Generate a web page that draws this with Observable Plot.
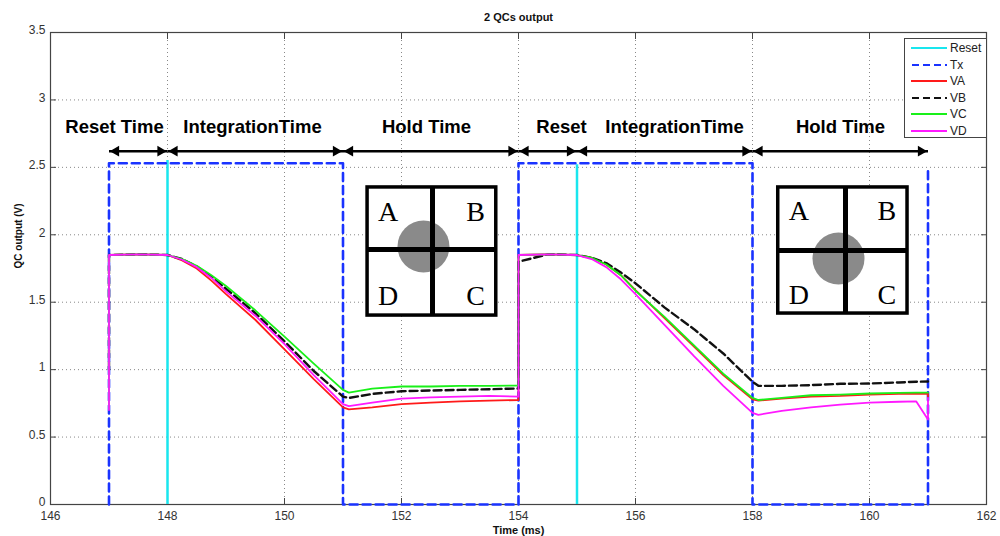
<!DOCTYPE html>
<html><head><meta charset="utf-8">
<script src="https://cdn.jsdelivr.net/npm/d3@7"></script>
<script src="https://cdn.jsdelivr.net/npm/@observablehq/plot@0.6"></script>
<style>
body{margin:0;background:#fff;font-family:"Liberation Sans",Arial,sans-serif;}
#wrap{position:relative;width:1000px;height:536px;}
#legend{position:absolute;left:904px;top:38px;width:83px;height:100px;border:1px solid #444;background:#fff;box-sizing:border-box;font-size:12px;color:#222;}
.row{position:absolute;left:0;height:16px;width:80px;}
.row svg{position:absolute;left:6px;top:6px;}
.row span{position:absolute;left:45px;top:1px;line-height:14px;}
</style></head><body><div id="wrap"><div id="legend"></div></div>
<script>
// ---- data ----
const seriesNames = ["Reset", "Tx", "VA", "VB", "VC", "VD"];
const xTicks = [146, 148, 150, 152, 154, 156, 158, 160, 162];
const yTicks = [0, 0.5, 1, 1.5, 2, 2.5, 3, 3.5];

const resetTime = [148, 155];
const resetPeak = [2.55, 2.52];

const txTime = [147, 147, 151, 151, 154, 154, 158, 158, 161, 161];
const txValue = [0, 2.53, 2.53, 0, 0, 2.53, 2.53, 0, 0, 2.5];

const time = [147, 147, 147.5, 148, 148.25, 148.5, 148.75, 149, 149.5, 150, 150.5, 151, 151.1, 151.5, 152, 152.5, 153, 153.5, 154, 154, 154.5, 155, 155.25, 155.5, 155.75, 156, 156.5, 157, 157.5, 158, 158.1, 158.5, 159, 159.5, 160, 160.5, 160.8, 161, 161];
const va = [1.30, 1.85, 1.855, 1.85, 1.81, 1.75, 1.66, 1.56, 1.37, 1.15, 0.93, 0.72, 0.705, 0.72, 0.745, 0.755, 0.765, 0.77, 0.775, 1.85, 1.855, 1.85, 1.83, 1.78, 1.70, 1.59, 1.38, 1.17, 0.96, 0.78, 0.77, 0.785, 0.80, 0.805, 0.815, 0.82, 0.82, 0.82, 0.80];
const vb = [1.0, 1.85, 1.855, 1.85, 1.82, 1.765, 1.69, 1.60, 1.42, 1.21, 0.99, 0.80, 0.79, 0.82, 0.84, 0.845, 0.85, 0.855, 0.86, 1.80, 1.855, 1.85, 1.83, 1.79, 1.72, 1.64, 1.46, 1.30, 1.12, 0.91, 0.88, 0.88, 0.885, 0.895, 0.897, 0.905, 0.91, 0.912, 0.912];
const vc = [0.71, 1.85, 1.855, 1.85, 1.82, 1.77, 1.70, 1.62, 1.44, 1.245, 1.045, 0.85, 0.83, 0.86, 0.875, 0.875, 0.88, 0.88, 0.882, 1.85, 1.855, 1.85, 1.83, 1.78, 1.70, 1.585, 1.39, 1.18, 0.97, 0.79, 0.775, 0.79, 0.81, 0.815, 0.823, 0.828, 0.83, 0.83, 0.83];
const vd = [0.70, 1.85, 1.855, 1.85, 1.815, 1.76, 1.68, 1.58, 1.40, 1.19, 0.96, 0.745, 0.73, 0.755, 0.785, 0.795, 0.80, 0.805, 0.80, 1.85, 1.855, 1.85, 1.82, 1.76, 1.67, 1.56, 1.33, 1.10, 0.88, 0.68, 0.665, 0.695, 0.72, 0.74, 0.756, 0.762, 0.764, 0.63, 0.79];

// phase annotations (data units)
const phaseLabels = ["Reset Time", "IntegrationTime", "Hold Time", "Reset", "IntegrationTime", "Hold Time"];
const phaseStart = [147, 148, 151, 154, 155, 158];
const phaseEnd = [148, 151, 154, 155, 158, 161];
const phaseLabelX = [147.094, 149.453, 152.427, 154.735, 156.667, 159.504];
const arrowLevel = 2.62;
const labelLevel = 2.795;

// quadrant detector insets (data units)
const insetX1 = [151.42, 158.44];
const insetX2 = [153.62, 160.65];
const insetY1 = [1.401, 1.416];
const insetY2 = [2.351, 2.351];
const insetCrossX = [152.53, 159.59];
const insetCrossY = [1.891, 1.883];
const spotX = [152.376, 159.47];
const spotY = [1.913, 1.824];
const quadLetters = ["A", "B", "D", "C"];
const quadFx = [0.16, 0.84, 0.16, 0.84];
const quadFy = [0.19, 0.19, 0.85, 0.85];

// ---- build tables ----
const colors = {Reset: "#19e6ee", Tx: "#1a33ff", VA: "#ff1a1a", VB: "#111111", VC: "#19f019", VD: "#ff19ff"};
const seriesVals = {VA: va, VB: vb, VC: vc, VD: vd};
const lineRows = name => time.map((t, i) => ({t, v: seriesVals[name][i]}));
const txRows = txTime.map((t, i) => ({t, v: txValue[i]}));
const resetRows = resetTime.map((t, i) => ({t, peak: resetPeak[i]}));
const phases = phaseLabels.map((label, i) => ({label, s: phaseStart[i], e: phaseEnd[i], lx: phaseLabelX[i]}));
const insets = insetX1.map((x1, i) => ({x1, x2: insetX2[i], y1: insetY1[i], y2: insetY2[i], cx: insetCrossX[i], cy: insetCrossY[i], sx: spotX[i], sy: spotY[i]}));
const letters = insets.flatMap(b => quadLetters.map((L, j) => ({L, x: b.x1 + quadFx[j] * (b.x2 - b.x1), y: b.y2 - quadFy[j] * (b.y2 - b.y1)})));

const lineMark = name => Plot.line(lineRows(name), {x: "t", y: "v", stroke: colors[name], strokeWidth: name === "VB" ? 2.4 : 1.8, strokeDasharray: name === "VB" ? "8,4" : null, curve: "linear"});

const chart = Plot.plot({
  width: 1000, height: 536,
  marginLeft: 50, marginRight: 14, marginTop: 32, marginBottom: 32,
  style: {fontFamily: "'Liberation Sans', Arial, sans-serif", fontSize: "12px", color: "#333", background: "#fff"},
  x: {domain: [146, 162]},
  y: {domain: [0, 3.5]},
  marks: [
    Plot.gridX(xTicks, {stroke: "#888", strokeOpacity: 1, strokeDasharray: "1,3"}),
    Plot.gridY(yTicks, {stroke: "#888", strokeOpacity: 1, strokeDasharray: "1,3"}),
    Plot.axisX(xTicks, {anchor: "bottom", tickSize: -6, tickPadding: 13, stroke: "#444", fill: "#333", label: null, tickFormat: d => String(d)}),
    Plot.axisX(xTicks, {anchor: "top", tickSize: -6, stroke: "#444", label: null, tickFormat: () => ""}),
    Plot.axisY(yTicks, {anchor: "left", tickSize: -6, stroke: "#444", label: null, tickFormat: () => ""}),
    Plot.text(yTicks, {y: d => d, frameAnchor: "left", textAnchor: "end", dx: -5, dy: -2, text: d => String(d), fill: "#333", fontSize: 12}),
    Plot.axisY(yTicks, {anchor: "right", tickSize: -6, stroke: "#444", label: null, tickFormat: () => ""}),
    Plot.frame({stroke: "#444", strokeWidth: 1.2}),
    // insets
    Plot.rect(insets, {x1: "x1", x2: "x2", y1: "y1", y2: "y2", fill: "white"}),
    Plot.dot(insets, {x: "sx", y: "sy", r: 26, fill: "#8a8a8a", stroke: "none"}),
    Plot.link(insets, {x1: "cx", x2: "cx", y1: "y1", y2: "y2", stroke: "black", strokeWidth: 5}),
    Plot.link(insets, {x1: "x1", x2: "x2", y1: "cy", y2: "cy", stroke: "black", strokeWidth: 5}),
    Plot.rect(insets, {x1: "x1", x2: "x2", y1: "y1", y2: "y2", fill: "none", stroke: "black", strokeWidth: 3.5}),
    Plot.text(letters, {x: "x", y: "y", text: "L", fontFamily: "'Liberation Serif', 'DejaVu Serif', serif", fontSize: 28, fill: "black", lineAnchor: "middle"}),
    // signals
    Plot.ruleX(resetRows, {x: "t", y1: 0, y2: "peak", stroke: colors.Reset, strokeWidth: 2.5}),
    Plot.line(txRows, {x: "t", y: "v", stroke: colors.Tx, strokeWidth: 2.6, strokeDasharray: "8,5"}),
    lineMark("VA"), lineMark("VB"), lineMark("VC"), lineMark("VD"),
    // phase arrows
    Plot.link(phases, {x1: "s", x2: "e", y1: () => arrowLevel, y2: () => arrowLevel, stroke: "black", strokeWidth: 2.5, insetLeft: 4, insetRight: 4}),
    Plot.dot(phases, {x: "e", y: () => arrowLevel, symbol: "triangle", r: 4, rotate: 90, fill: "black", stroke: "none", dx: -7}),
    Plot.dot(phases, {x: "s", y: () => arrowLevel, symbol: "triangle", r: 4, rotate: -90, fill: "black", stroke: "none", dx: 7}),
    Plot.text(phases, {x: "lx", y: () => labelLevel, text: "label", fontWeight: "bold", fontSize: 18.5, fill: "black", lineAnchor: "middle"}),
    // titles
    Plot.text(["2 QCs output"], {frameAnchor: "top", dy: -15, fontWeight: "bold", fontSize: 11, fill: "#111", lineAnchor: "middle"}),
    Plot.text(["Time (ms)"], {frameAnchor: "bottom", dy: 25.5, fontWeight: "bold", fontSize: 11, fill: "#111", lineAnchor: "middle"}),
    Plot.text(["QC output (V)"], {frameAnchor: "left", dx: -32, rotate: -90, fontWeight: "bold", fontSize: 10, fill: "#111", lineAnchor: "middle"})
  ]
});
const wrap = document.getElementById("wrap");
wrap.insertBefore(chart, wrap.firstChild);

// legend
const legend = document.getElementById("legend");
seriesNames.forEach((name, i) => {
  const row = document.createElement("div");
  row.className = "row";
  row.style.top = (1 + i * 16.6) + "px";
  const dashed = name === "Tx" || name === "VB";
  row.innerHTML = `<svg width="36" height="4"><line x1="0" y1="2" x2="36" y2="2" stroke="${colors[name]}" stroke-width="2" ${dashed ? 'stroke-dasharray="7,4" stroke-dashoffset="-1"' : ''}/></svg><span>${name}</span>`;
  legend.appendChild(row);
});
</script>
</body></html>
